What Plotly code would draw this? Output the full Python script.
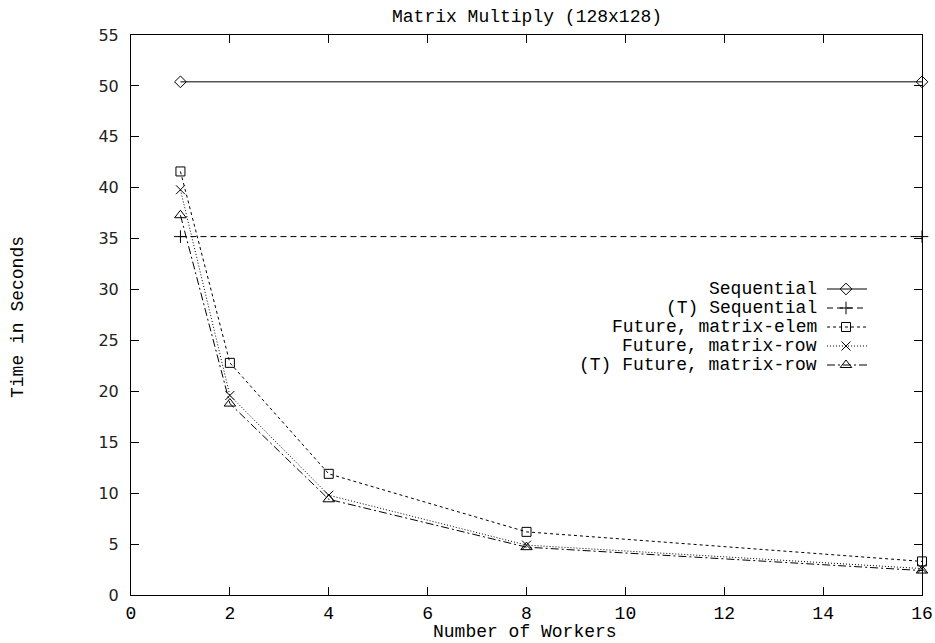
import plotly.graph_objects as go

# ---- data ----
workers = [1, 2, 4, 8, 16]
seq_x = [1, 16]
seq_time = [50.4, 50.4]
tseq_time = [35.2, 35.2]
fut_elem = [41.6, 22.8, 11.9, 6.2, 3.3]
fut_row = [39.8, 19.6, 9.8, 4.9, 2.6]
tfut_row = [37.3, 18.8, 9.4, 4.7, 2.4]

series_names = ["Sequential", "(T) Sequential", "Future, matrix-elem",
                "Future, matrix-row", "(T) Future, matrix-row"]
x_ticks = [0, 2, 4, 6, 8, 10, 12, 14, 16]
y_ticks = [0, 5, 10, 15, 20, 25, 30, 35, 40, 45, 50, 55]

# ---- styles ----
FONT = "Liberation Mono, Courier New, monospace"
SANS = "DejaVu Sans, sans-serif"
FS = 18
styles = [
    dict(dash="solid", symbol="diamond-open", size=9),
    dict(dash="6px,4px", symbol="cross-thin-open", size=9),
    dict(dash="3px,3px", symbol="square-open", size=9),
    dict(dash="1px,2px", symbol="x-thin-open", size=9),
    dict(dash="8px,3px,2px,3px", symbol="triangle-up-open", size=10),
]
xs = [seq_x, seq_x, workers, workers, workers]
ys = [seq_time, tseq_time, fut_elem, fut_row, tfut_row]

fig = go.Figure()
for name, x, y, st in zip(series_names, xs, ys, styles):
    fig.add_trace(go.Scatter(
        x=x, y=y, mode="lines+markers", name=name, showlegend=False,
        line=dict(color="black", width=1, dash=st["dash"]),
        marker=dict(symbol=st["symbol"], size=st["size"], color="black",
                    line=dict(color="black", width=1)),
        cliponaxis=False,
    ))

W, H = 935, 643
L, R, T, B = 131, 922, 35, 595   # plot area in window pixels

def fx(px):
    return (px - L) / (R - L)

def fy(py):
    return (B - py) / (B - T)

# ---- legend (gnuplot style: text left, sample right) ----
row_py = [289, 308, 327, 346, 365]
for name, st, py in zip(series_names, styles, row_py):
    fig.add_trace(go.Scatter(
        x=[fx(827), fx(867)], y=[fy(py), fy(py)], mode="lines",
        xaxis="x2", yaxis="y2", showlegend=False, hoverinfo="skip",
        line=dict(color="black", width=1, dash=st["dash"])))
    fig.add_trace(go.Scatter(
        x=[fx(846)], y=[fy(py)], mode="markers",
        xaxis="x2", yaxis="y2", showlegend=False, hoverinfo="skip",
        marker=dict(symbol=st["symbol"], size=st["size"], color="black",
                    line=dict(color="black", width=1))))
    fig.add_annotation(text=name, xref="paper", yref="paper",
                       x=fx(819), y=fy(py), xanchor="right", yanchor="middle",
                       showarrow=False, font=dict(family=FONT, size=FS, color="black"))

axis_common = dict(showline=True, linecolor="black", linewidth=1, mirror="ticks",
                   ticks="inside", ticklen=8, tickcolor="black", showgrid=False,
                   zeroline=False, automargin=False, ticklabeloverflow="allow")

fig.update_layout(
    width=W, height=H,
    margin=dict(l=L, r=W - R, t=T, b=H - B, autoexpand=False),
    paper_bgcolor="white", plot_bgcolor="white",
    font=dict(family=FONT, size=FS, color="black"),
    showlegend=False,
    xaxis=dict(range=[0, 16], tickvals=x_ticks, ticklabelstandoff=1,
               tickfont=dict(family=FONT, size=FS, color="black"), **axis_common),
    yaxis=dict(range=[0, 55], tickvals=y_ticks, ticklabelstandoff=8,
               tickfont=dict(family=SANS, size=16, color="#222"), **axis_common),
    xaxis2=dict(range=[0, 1], overlaying="x", visible=False),
    yaxis2=dict(range=[0, 1], overlaying="y", visible=False),
)
fig.add_annotation(text="Matrix Multiply (128x128)", xref="paper", yref="paper",
                   x=fx(527), y=fy(17), xanchor="center", yanchor="middle",
                   showarrow=False, font=dict(family=FONT, size=FS))
fig.add_annotation(text="Number of Workers", xref="paper", yref="paper",
                   x=fx(525), y=fy(632), xanchor="center", yanchor="middle",
                   showarrow=False, font=dict(family=FONT, size=FS))
fig.add_annotation(text="Time in Seconds", xref="paper", yref="paper",
                   x=fx(18), y=fy(317), xanchor="center", yanchor="middle",
                   textangle=-90, showarrow=False, font=dict(family=FONT, size=FS))

# remove the browser's default 8px body margin so the figure fills the window exactly
fig.write_html("out.html",
               config={"displayModeBar": False},
               post_script="document.body.style.margin='0';"
                           "document.body.style.overflow='hidden';")
